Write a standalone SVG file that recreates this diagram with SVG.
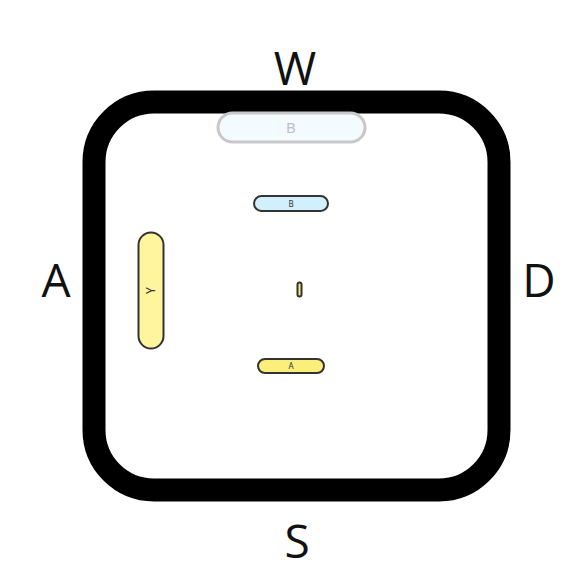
<svg xmlns="http://www.w3.org/2000/svg" width="587" height="588" viewBox="0 0 587 588">
<style>
.lbl{font-family:"Open Sans","Noto Sans",sans-serif;font-size:46px;fill:#111;text-anchor:middle}
.pill{stroke:#333;stroke-width:2}
.pt{font-family:"Noto Sans","DejaVu Sans",sans-serif;fill:#333;text-anchor:middle}
</style>
<rect width="587" height="588" fill="#fff"/>
<g id="frame">
<rect x="94" y="102" width="405" height="388" rx="60" ry="60" fill="none" stroke="#000" stroke-width="23"/>
</g>
<g id="label-W"><text class="lbl" x="295" y="85">W</text></g>
<g id="label-A"><text class="lbl" x="56" y="297">A</text></g>
<g id="label-D"><text class="lbl" x="539" y="297">D</text></g>
<g id="label-S"><text class="lbl" x="297" y="558">S</text></g>
<g id="node-ghostB">
<rect x="218" y="113" width="147" height="29" rx="14.5" fill="#f3fbff" stroke="#c8c8c8" stroke-width="3"/>
<text class="pt" x="291" y="133" font-size="15" fill="#c0c0c0" style="fill:#c0c0c0">B</text>
</g>
<g id="node-B">
<rect class="pill" x="254" y="196" width="74" height="15" rx="7.5" fill="#d2f0fc" stroke-width="1.8"/>
<text class="pt" x="291" y="207" font-size="8">B</text>
</g>
<g id="node-center">
<rect class="pill" x="297.5" y="282.5" width="4" height="14" rx="2" fill="#fbee7a" stroke-width="1.2"/>
</g>
<g id="node-A">
<rect class="pill" x="258" y="359" width="66" height="14" rx="7" fill="#fbee7a" stroke-width="1.8"/>
<text class="pt" x="291" y="369" font-size="8">A</text>
</g>
<g id="node-Y">
<rect class="pill" x="138.5" y="232.5" width="25" height="116" rx="12.5" fill="#fff59d" stroke="#444" stroke-width="3"/>
<text class="pt" x="0" y="0" font-size="12" transform="translate(155 290.5) rotate(-90)">Y</text>
</g>
<g id="connectors"></g>
</svg>
